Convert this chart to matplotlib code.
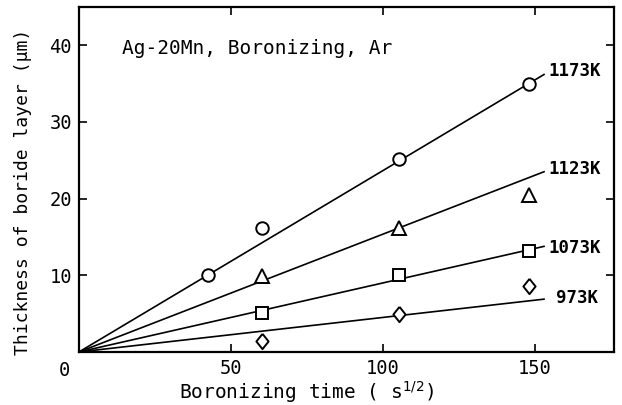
import numpy as np
import matplotlib
matplotlib.use("Agg")
import matplotlib.pyplot as plt

plt.rcParams['font.family'] = ['DejaVu Sans Mono', 'DejaVu Sans']
plt.rcParams['mathtext.fontset'] = 'dejavusans'

# data
temps = ["1173K", "1123K", "1073K", "973K"]
x_pts = [[42.4, 60.2, 105.3, 148.0],
         [60.2, 105.3, 148.0],
         [60.2, 105.3, 148.0],
         [60.2, 105.3, 148.0]]
y_pts = [[10.0, 16.1, 25.2, 35.0],
         [9.9, 16.1, 20.5],
         [5.1, 10.0, 13.2],
         [1.4, 5.0, 8.6]]
# fitted lines through origin
slopes = [0.2365, 0.1536, 0.090, 0.045]
line_end = 153.0
label_pos = [(154.5, 36.6), (154.5, 23.8), (154.5, 13.6), (157.0, 7.1)]

diamond = [(0, 1), (0.8, 0), (0, -1), (-0.8, 0), (0, 1)]
markers = ["o", "^", "s", diamond]
msizes = [9, 10, 8.5, 11]

fig = plt.figure(figsize=(6.22, 4.05), dpi=100)
ax = fig.add_axes([0.127, 0.131, 0.860, 0.852])

for i in range(len(temps)):
    xl = np.array([0, line_end])
    ax.plot(xl, slopes[i] * xl, color='black', lw=1.2, zorder=2)
    ax.plot(x_pts[i], y_pts[i], linestyle='none', marker=markers[i],
            markersize=msizes[i], mfc='white', mec='black', mew=1.4, zorder=3)
    ax.text(label_pos[i][0], label_pos[i][1], temps[i], fontsize=12.5,
            fontweight='bold', va='center', ha='left')

ax.set_xlim(0, 176)
ax.set_ylim(0, 45)
ax.set_xticks([50, 100, 150])
ax.set_yticks([10, 20, 30, 40])
ax.tick_params(direction='in', length=6, width=1.2, labelsize=13.5,
               top=True, right=True, pad=5)
for s in ax.spines.values():
    s.set_linewidth(1.6)

ax.text(-0.028, -0.025, "0", transform=ax.transAxes, fontsize=13.5,
        ha='center', va='top')
ax.text(0.08, 0.88, "Ag-20Mn, Boronizing, Ar", transform=ax.transAxes,
        fontsize=14, va='center')

ax.set_xlabel("Boronizing time ( s$^{1/2}$)", fontsize=14)
ax.xaxis.set_label_coords(0.425, -0.08)
ax.set_ylabel("Thickness of boride layer (μm)", fontsize=13)
ax.yaxis.set_label_coords(-0.087, 0.465)

fig.savefig("out.png", dpi=100)
